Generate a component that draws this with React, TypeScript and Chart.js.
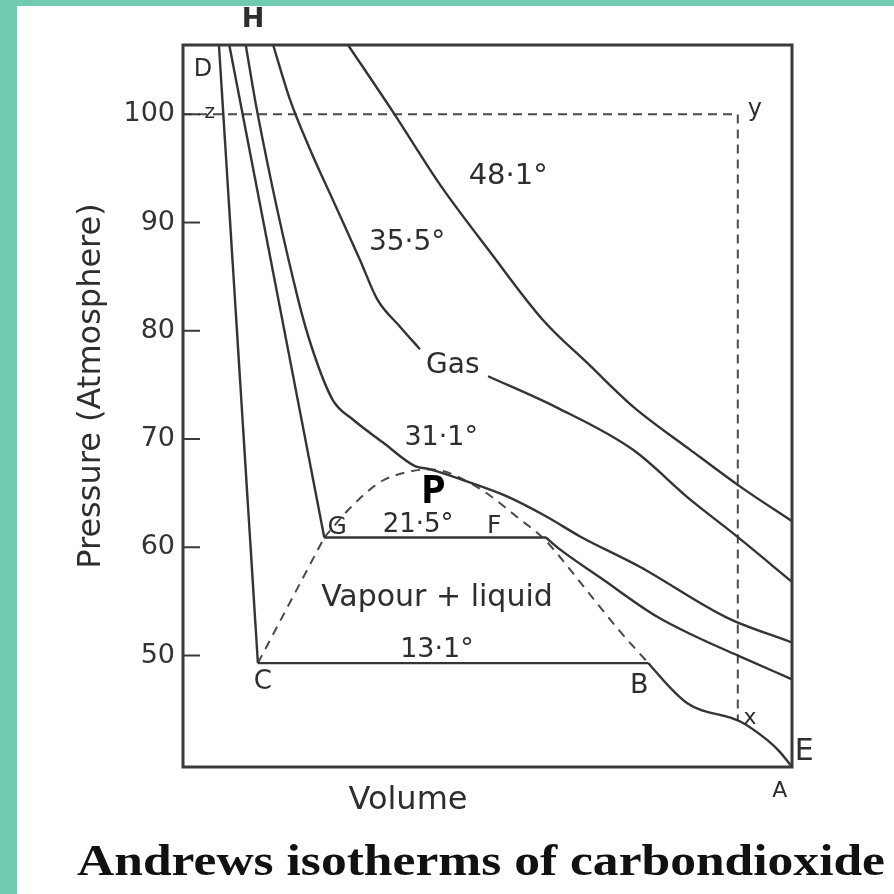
import React, { useEffect, useRef } from 'react';
import { Chart, registerables } from 'chart.js';

Chart.register(...registerables);

// ---- axis ranges (volume is unitless, pressure in atm) ----
const X_MIN = 0;
const X_MAX = 100;
const Y_MIN = 39.7;
const Y_MAX = 106.4;
const Y_TICKS = [50, 60, 70, 80, 90, 100];

// ---- 13.1 °C isotherm ----
const T13_LIQ_V = [5.9, 12.3];
const T13_LIQ_P = [106.4, 49.3];
const T13_FLAT_V = [12.3, 76.4];
const T13_FLAT_P = [49.3, 49.3];
const T13_VAP_V = [76.4, 76.7, 82.8, 91.5, 95.9, 98.0, 100];
const T13_VAP_P = [49.3, 49.1, 45.6, 43.9, 42.2, 41.1, 39.7];

// ---- 21.5 °C isotherm ----
const T21_LIQ_V = [7.6, 23.2];
const T21_LIQ_P = [106.4, 60.9];
const T21_FLAT_V = [23.2, 59.6];
const T21_FLAT_P = [60.9, 60.9];
const T21_VAP_V = [59.6, 61.9, 68.5, 77.8, 84.0, 91.5, 100];
const T21_VAP_P = [60.9, 59.8, 57.2, 53.6, 51.8, 49.9, 47.8];

// ---- 31.1 °C (critical) isotherm ----
const T31_V = [10.3, 12.2, 18.9, 21.3, 24.6, 27.9, 32.8, 38.1, 40.6, 46.0, 53.2, 59.8, 65.2, 75.0, 89.3, 100];
const T31_P = [106.4, 100.2, 82.9, 78.2, 73.6, 71.8, 69.7, 67.5, 67.2, 66.2, 64.7, 62.8, 61.0, 58.2, 53.5, 51.2];

// ---- 35.5 °C isotherm (broken where the "Gas" label sits) ----
const T35_V = [14.8, 17.6, 20.9, 25.0, 29.1, 31.9, 35.6, 38.9, 44.3, 50.1, 61.4, 73.9, 83.3, 90.3, 100];
const T35_P = [106.4, 101.3, 96.7, 91.6, 86.5, 82.9, 80.4, 78.3, null, 75.8, 72.9, 69.0, 64.4, 61.3, 56.8];

// ---- 48.1 °C isotherm ----
const T48_V = [27.1, 34.5, 42.2, 50.4, 59.1, 66.8, 73.9, 83.3, 91.5, 100];
const T48_P = [106.4, 100.2, 93.5, 87.3, 81.0, 76.8, 73.0, 69.0, 65.6, 62.4];

// ---- saturation dome C-G (straight) and G-P-F-B (curved), dashed ----
const DOME_L_V = [12.3, 23.2];
const DOME_L_P = [49.3, 60.9];
const DOME_R_V = [23.2, 27.4, 32.3, 36.5, 40.6, 47.9, 55.3, 59.4, 61.9, 66.3, 71.8, 76.4];
const DOME_R_P = [60.9, 63.6, 66.0, 66.9, 67.2, 65.7, 62.6, 60.7, 59.1, 56.0, 52.2, 49.3];

// ---- dashed path z -> y -> x ----
const ZYX_V = [0, 91.1, 91.1];
const ZYX_P = [100, 100, 44.0];

// ---- point and region labels (anchored in data units) ----
const ANNOTATIONS = [
  { text: 'H', v: 11.5, p: 108.7, size: 27, bold: true },
  { text: 'D', v: 3.3, p: 104.1, size: 24 },
  { text: 'z', v: 4.4, p: 100.1, size: 20 },
  { text: 'y', v: 93.9, p: 100.4, size: 24 },
  { text: '48·1°', v: 53.4, p: 94.3, size: 29 },
  { text: '35·5°', v: 36.8, p: 88.1, size: 28 },
  { text: 'Gas', v: 44.3, p: 76.8, size: 28 },
  { text: '31·1°', v: 42.4, p: 70.1, size: 27 },
  { text: 'G', v: 25.3, p: 61.8, size: 25 },
  { text: '21·5°', v: 38.6, p: 62.0, size: 26 },
  { text: 'F', v: 51.1, p: 61.9, size: 25 },
  { text: 'Vapour + liquid', v: 41.7, p: 55.3, size: 30 },
  { text: '13·1°', v: 41.7, p: 50.5, size: 27 },
  { text: 'C', v: 13.1, p: 47.5, size: 26 },
  { text: 'B', v: 74.9, p: 47.2, size: 27 },
  { text: 'x', v: 93.1, p: 44.2, size: 22 },
  { text: 'E', v: 102.0, p: 41.1, size: 30 },
  { text: 'A', v: 98.0, p: 37.5, size: 22 },
];

const CRITICAL_LABEL = { text: 'P', v: 41.1, p: 65.1 };

const TITLE = 'Andrews isotherms of carbondioxide';
const X_TITLE = 'Volume';
const Y_TITLE = 'Pressure (Atmosphere)';

const zip = (vs: number[], ps: (number | null)[]) => vs.map((v, i) => ({ x: v, y: ps[i] }));

const LINE = '#343434';
const TEXT = '#2e2e2e';

export default function App() {
  const ref = useRef<HTMLCanvasElement | null>(null);

  useEffect(() => {
    if (!ref.current) return;

    const solid = (data: any[], curved: boolean) => ({
      data,
      borderColor: LINE,
      borderWidth: 2.4,
      pointRadius: 0,
      fill: false,
      spanGaps: false,
      tension: 0,
      cubicInterpolationMode: curved ? 'monotone' : 'default',
    });
    const dashed = (data: any[], curved: boolean, dash: number[]) => ({
      data,
      borderColor: '#4a4a4a',
      borderWidth: 2,
      borderDash: dash,
      pointRadius: 0,
      fill: false,
      tension: 0,
      cubicInterpolationMode: curved ? 'monotone' : 'default',
    });

    const decor = {
      id: 'decor',
      afterDraw(chart: any) {
        const { ctx, chartArea: a, scales } = chart;
        const xs = scales.x;
        const ys = scales.y;
        ctx.save();
        // frame
        ctx.strokeStyle = '#3a3a3a';
        ctx.lineWidth = 3;
        ctx.strokeRect(a.left, a.top, a.right - a.left, a.bottom - a.top);
        // inward tick marks
        ctx.lineWidth = 2;
        Y_TICKS.forEach((t) => {
          const py = ys.getPixelForValue(t);
          ctx.beginPath();
          ctx.moveTo(a.left, py);
          ctx.lineTo(a.left + 17, py);
          ctx.stroke();
        });
        // labels
        ctx.fillStyle = TEXT;
        ctx.textAlign = 'center';
        ctx.textBaseline = 'middle';
        ANNOTATIONS.forEach((l: any) => {
          ctx.font = `${l.bold ? 'bold ' : ''}${l.size}px "DejaVu Sans"`;
          ctx.fillText(l.text, xs.getPixelForValue(l.v), ys.getPixelForValue(l.p));
        });
        ctx.fillStyle = '#000';
        ctx.font = 'bold 40px "Open Sans"';
        ctx.fillText(CRITICAL_LABEL.text, xs.getPixelForValue(CRITICAL_LABEL.v), ys.getPixelForValue(CRITICAL_LABEL.p));
        // x axis title
        ctx.fillStyle = TEXT;
        ctx.font = '32px "DejaVu Sans"';
        ctx.fillText(X_TITLE, a.left + 225, a.bottom + 34);
        // y axis title
        ctx.save();
        ctx.translate(a.left - 83, (a.top + a.bottom) / 2 - 20);
        ctx.rotate(-Math.PI / 2);
        ctx.textBaseline = 'alphabetic';
        ctx.font = '32px "DejaVu Sans"';
        ctx.fillText(Y_TITLE, 0, 0);
        ctx.restore();
        // main caption
        ctx.save();
        ctx.font = 'bold 45px "Liberation Serif"';
        ctx.fillStyle = '#111';
        ctx.textAlign = 'left';
        ctx.textBaseline = 'alphabetic';
        const w = ctx.measureText(TITLE).width;
        ctx.translate(77, 875);
        ctx.scale(808 / w, 1);
        ctx.fillText(TITLE, 0, 0);
        ctx.restore();
        ctx.restore();
      },
    };

    const chart = new Chart(ref.current, {
      type: 'line',
      data: {
        datasets: [
          solid(zip(T13_LIQ_V, T13_LIQ_P), false),
          solid(zip(T13_FLAT_V, T13_FLAT_P), false),
          solid(zip(T13_VAP_V, T13_VAP_P), true),
          solid(zip(T21_LIQ_V, T21_LIQ_P), false),
          solid(zip(T21_FLAT_V, T21_FLAT_P), false),
          solid(zip(T21_VAP_V, T21_VAP_P), true),
          solid(zip(T31_V, T31_P), true),
          solid(zip(T35_V, T35_P), true),
          solid(zip(T48_V, T48_P), true),
          dashed(zip(DOME_L_V, DOME_L_P), false, [9, 7]),
          dashed(zip(DOME_R_V, DOME_R_P), true, [9, 7]),
          dashed(zip(ZYX_V, ZYX_P), false, [9, 6]),
        ] as any,
      },
      options: {
        animation: false,
        responsive: false,
        devicePixelRatio: 1,
        layout: { padding: { left: 0, top: 45, right: 102, bottom: 127 } },
        plugins: {
          legend: { display: false },
          tooltip: { enabled: false },
          title: { display: false },
        },
        scales: {
          x: { type: 'linear', min: X_MIN, max: X_MAX, display: false },
          y: {
            type: 'linear',
            min: Y_MIN,
            max: Y_MAX,
            afterFit: (s: any) => {
              s.width = 183;
            },
            afterBuildTicks: (s: any) => {
              s.ticks = Y_TICKS.map((v) => ({ value: v }));
            },
            grid: { display: false, drawTicks: false },
            border: { display: false },
            ticks: {
              padding: 8,
              color: '#333',
              font: { family: '"DejaVu Sans"', size: 27 },
              callback: (v: any) => String(v),
            },
          },
        },
      } as any,
      plugins: [decor],
    });
    return () => chart.destroy();
  }, []);

  return (
    <div style={{ position: 'absolute', left: 0, top: 0, width: 894, height: 894, background: '#fff', overflow: 'hidden' }}>
      <canvas ref={ref} width={894} height={894} style={{ position: 'absolute', left: 0, top: 0, width: 894, height: 894 }} />
      <div style={{ position: 'absolute', left: 0, top: 0, width: 17, height: 894, background: '#71cbb1' }} />
      <div style={{ position: 'absolute', left: 0, top: 0, width: 894, height: 6, background: '#71cbb1' }} />
    </div>
  );
}
